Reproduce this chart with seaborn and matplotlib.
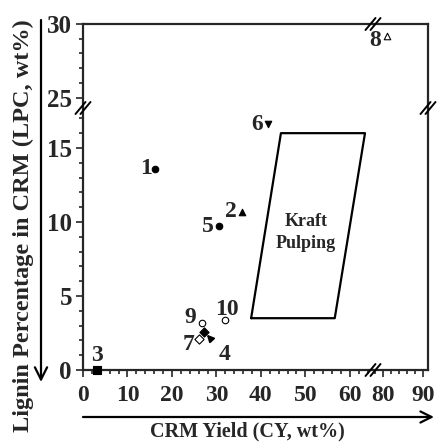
import seaborn as sns
import matplotlib.pyplot as plt
import numpy as np
from matplotlib.lines import Line2D
from matplotlib.ticker import MultipleLocator

sns.set_style('ticks')
plt.rcParams['font.family'] = ['Liberation Serif', 'DejaVu Serif']
plt.rcParams['font.weight'] = 'bold'

# data
ids = ['1', '2', '3', '4', '5', '6', '7', '8', '9', '10']
cy_yield = [16.2, 35.7, 3.1, 27.2, 30.6, 41.6, 26.1, 81.1, 26.7, 31.9]
lpc = [13.6, 10.7, 0.0, 2.6, 9.7, 16.6, 2.1, 29.2, 3.2, 3.4]
marker_shapes = ['o', '^', 's', 'D', 'o', 'v', 'D', '^', 'o', 'o']
filled = [True, True, True, True, True, True, False, False, False, False]
# label offsets (pixels) from each point
label_dx = [-9, -11, 0, 21, -11, -11, -11, -12, -12, 2]
label_dy = [0, 0, 14, -23, 0, 0, -6, -5, 5, 10]

kraft_x = [37.8, 56.6, 63.4, 44.5, 37.8]
kraft_y = [3.5, 3.5, 16.0, 16.0, 3.5]

x_low, x_high = (0, 65.2), (77.6, 91.2)
y_low, y_high = (0, 17.7), (24.3, 30)

fig = plt.figure(figsize=(4.38, 4.42), dpi=100)
gs = fig.add_gridspec(2, 2, left=83 / 438, right=428 / 438, bottom=1 - 370 / 442, top=1 - 24 / 442,
                      width_ratios=[290, 55], height_ratios=[84, 262], wspace=0, hspace=0)
ax_ul = fig.add_subplot(gs[0, 0])
ax_ur = fig.add_subplot(gs[0, 1])
ax_ll = fig.add_subplot(gs[1, 0])
ax_lr = fig.add_subplot(gs[1, 1])

lw = 1.6
for ax, xl, yl, show in [(ax_ul, x_low, y_high, ['top', 'left']),
                         (ax_ur, x_high, y_high, ['top', 'right']),
                         (ax_ll, x_low, y_low, ['left', 'bottom']),
                         (ax_lr, x_high, y_low, ['bottom', 'right'])]:
    ax.set_xlim(xl)
    ax.set_ylim(yl)
    ax.patch.set_alpha(0)
    for s in ['top', 'bottom', 'left', 'right']:
        ax.spines[s].set_visible(s in show)
        ax.spines[s].set_linewidth(lw)
    ax.tick_params(which='both', direction='out', width=1.2)
    ax.tick_params(axis='y', labelsize=18, pad=3)
    ax.tick_params(axis='x', labelsize=17, pad=6)
    ax.tick_params(which='major', length=5)
    ax.tick_params(which='minor', length=3)
    if 'left' in show:
        ax.yaxis.set_major_locator(MultipleLocator(5))
        ax.yaxis.set_minor_locator(MultipleLocator(1))
    else:
        ax.tick_params(axis='y', which='both', left=False, labelleft=False)
    if 'bottom' in show:
        ax.xaxis.set_major_locator(MultipleLocator(10))
        ax.xaxis.set_minor_locator(MultipleLocator(2))
    else:
        ax.tick_params(axis='x', which='both', bottom=False, labelbottom=False)

ax_ul.set_yticks([25, 30])
ax_ll.set_yticks([0, 5, 10, 15])
ax_lr.set_xticks([80, 90])
for ax in [ax_ul, ax_ll, ax_lr]:
    for t in ax.get_xticklabels() + ax.get_yticklabels():
        t.set_fontweight('bold')

# points
for i in range(len(ids)):
    x, y = cy_yield[i], lpc[i]
    ax = ax_ur if x > x_low[1] else ax_ll
    if y > y_low[1]:
        ax = ax_ur if x > x_low[1] else ax_ul
    size = 30 if marker_shapes[i] == 's' else 22
    sns.scatterplot(x=[x], y=[y], ax=ax, marker=marker_shapes[i], s=size,
                    color='black' if filled[i] else 'white', edgecolor='black',
                    linewidth=0.8, clip_on=False, zorder=5, legend=False)
    if ids[i] == '4':
        ax.annotate(ids[i], xy=(x, y), xytext=(label_dx[i] * 0.72, label_dy[i] * 0.72),
                    textcoords='offset points', ha='center', va='center', fontsize=17,
                    fontweight='bold',
                    arrowprops=dict(arrowstyle='-|>', color='black', lw=1.4,
                                    mutation_scale=10, shrinkA=6, shrinkB=3))
    else:
        ax.annotate(ids[i], xy=(x, y), xytext=(label_dx[i] * 0.72, label_dy[i] * 0.72),
                    textcoords='offset points', ha='center', va='center', fontsize=17,
                    fontweight='bold')

# Kraft pulping region
ax_ll.plot(kraft_x, kraft_y, color='black', lw=1.6)
ax_ll.text(50.1, 9.3, 'Kraft\nPulping', ha='center', va='center', fontsize=13,
           fontweight='bold', linespacing=1.4)

for ax in [ax_ul, ax_ur, ax_ll, ax_lr]:
    ax.set_xlabel('')
    ax.set_ylabel('')


# break marks (pixel positions)
def brk(px, py):
    for off in (-2.5, 2.5):
        xs = [(px + off - 5) / 438, (px + off + 5) / 438]
        ys = [1 - (py + 6) / 442, 1 - (py - 6) / 442]
        fig.add_artist(Line2D(xs, ys, color='black', lw=1.4))


brk(373, 24)
brk(373, 370)
brk(83, 108)
brk(428, 108)

# axis labels with arrows
fig.text(247 / 438, 1 - 436 / 442, 'CRM Yield (CY, wt%)', ha='center', va='baseline',
         fontsize=14.5, fontweight='bold')
fig.text(23 / 438, 1 - 226 / 442, 'Lignin Percentage in CRM (LPC, wt%)', ha='center', va='center',
         rotation=90, fontsize=17.5, fontweight='bold')
fig.add_artist(plt.Annotation('', xy=(434 / 438, 1 - 417 / 442), xytext=(83 / 438, 1 - 417 / 442),
                              xycoords='figure fraction', textcoords='figure fraction',
                              arrowprops=dict(arrowstyle='->', lw=1.6, color='black',
                                              mutation_scale=20, shrinkA=0, shrinkB=0)))
fig.add_artist(plt.Annotation('', xy=(41 / 438, 1 - 382 / 442), xytext=(41 / 438, 1 - 20 / 442),
                              xycoords='figure fraction', textcoords='figure fraction',
                              arrowprops=dict(arrowstyle='->', lw=1.6, color='black',
                                              mutation_scale=22, shrinkA=0, shrinkB=0)))

plt.savefig('out.png', dpi=100)
